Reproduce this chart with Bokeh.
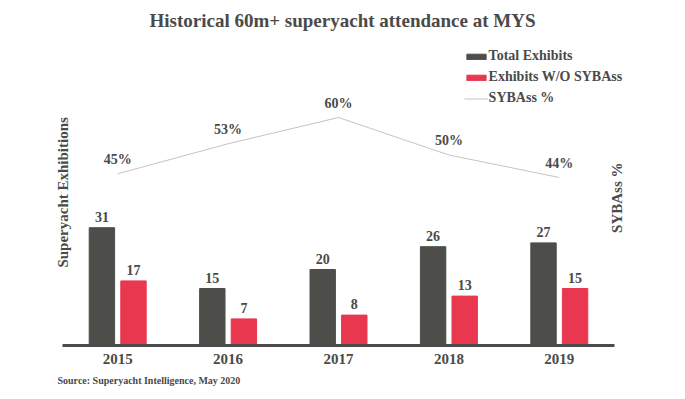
from bokeh.plotting import figure
from bokeh.models import (ColumnDataSource, Range1d, Legend, LegendItem,
                          Label, FixedTicker, Title)
from bokeh.transform import dodge
from bokeh.embed import file_html
from bokeh.resources import INLINE
from bokeh.core.properties import value

years = ["2015", "2016", "2017", "2018", "2019"]
total_exhibits = [31, 15, 20, 26, 27]
without_sybass = [17, 7, 8, 13, 15]
sybass_pct = [45, 53, 60, 50, 44]

title_text = "Historical 60m+ superyacht attendance at MYS"
source_text = "Source: Superyacht Intelligence, May 2020"

FONT = "Liberation Serif"
TXT = "#4a4a48"
DARK = "#4d4e4a"
RED = "#e8374f"
LINE = "#c4c4c4"

xi = list(range(len(years)))
src = ColumnDataSource(dict(
    xi=xi,
    year=years,
    total=total_exhibits,
    wo=without_sybass,
    pct=sybass_pct,
    total_txt=[str(v) for v in total_exhibits],
    wo_txt=[str(v) for v in without_sybass],
    pct_txt=[f"{v}%" for v in sybass_pct],
))

p = figure(width=685, height=399, x_range=Range1d(-1.0616, 5.1431),
           y_range=Range1d(0, 90.79), output_backend="svg", toolbar_location=None,
           y_axis_location=None, min_border_left=0, min_border_right=0,
           min_border_top=0, min_border_bottom=54)
p.extra_y_ranges = {"pct": Range1d(-0.8, 91.2)}
p.outline_line_color = None
p.xgrid.grid_line_color = None
p.ygrid.grid_line_color = None
p.background_fill_color = "white"

off = 0.143
w = 0.23
r_total = p.vbar(x=dodge("xi", -off), top="total", width=w,
                 source=src, fill_color=DARK, line_color=DARK)
r_wo = p.vbar(x=dodge("xi", off), top="wo", width=w,
              source=src, fill_color=RED, line_color=RED)
r_line = p.line(x="xi", y="pct", source=src, y_range_name="pct",
                line_color=LINE, line_width=1)

common = dict(text_font=value(FONT), text_font_style="bold", text_color=TXT,
              text_align="center", text_baseline="bottom")
p.text(x=dodge("xi", -off), y="total", text="total_txt",
       source=src, y_offset=-6, text_font_size="14px", **common)
p.text(x=dodge("xi", off), y="wo", text="wo_txt",
       source=src, y_offset=-6, text_font_size="14px", **common)
p.text(x="xi", y="pct", text="pct_txt", source=src, y_range_name="pct",
       y_offset=-7, text_font_size="14px", **common)

xa = p.xaxis[0]
xa.ticker = FixedTicker(ticks=xi)
xa.major_label_overrides = {i: y for i, y in zip(xi, years)}
xa.bounds = (-0.5, len(years) - 0.5)
xa.axis_line_color = "#4b4b4b"
xa.axis_line_width = 3
xa.major_tick_line_color = None
xa.minor_tick_line_color = None
xa.major_label_text_font = FONT
xa.major_label_text_font_style = "bold"
xa.major_label_text_font_size = "15px"
xa.major_label_text_color = TXT
xa.major_label_standoff = 2

legend = Legend(items=[
    LegendItem(label="Total Exhibits", renderers=[r_total]),
    LegendItem(label="Exhibits W/O SYBAss", renderers=[r_wo]),
    LegendItem(label="SYBAss %", renderers=[r_line]),
], location=(463.6, 238), orientation="vertical",
    glyph_width=24, glyph_height=7, label_standoff=1, label_height=18,
    spacing=3, padding=0, margin=0, border_line_color=None,
    background_fill_alpha=0, label_text_font=FONT,
    label_text_font_style="bold", label_text_font_size="14px",
    label_text_color=TXT)
p.add_layout(legend)

p.add_layout(Label(x=2.036, y=85.5, text=title_text, text_font=FONT,
                   text_font_style="bold", text_font_size="19px", text_color=TXT,
                   text_align="center", text_baseline="middle"))
p.add_layout(Label(x=-0.5, y=40.3, text="Superyacht Exhibitions", angle=1.5708,
                   text_font=FONT, text_font_style="bold", text_font_size="15px",
                   text_color=TXT, text_align="center", text_baseline="middle"))
p.add_layout(Label(x=4.527, y=38.9, text="SYBAss %", angle=1.5708,
                   text_font=FONT, text_font_style="bold", text_font_size="15px",
                   text_color=TXT, text_align="center", text_baseline="middle"))
p.add_layout(Title(text=source_text, align="left", offset=57, standoff=12,
                   vertical_align="bottom",
                   text_font=FONT, text_font_style="bold", text_font_size="10px",
                   text_color=TXT), "below")

open("out.html", "w").write(file_html(p, INLINE))
